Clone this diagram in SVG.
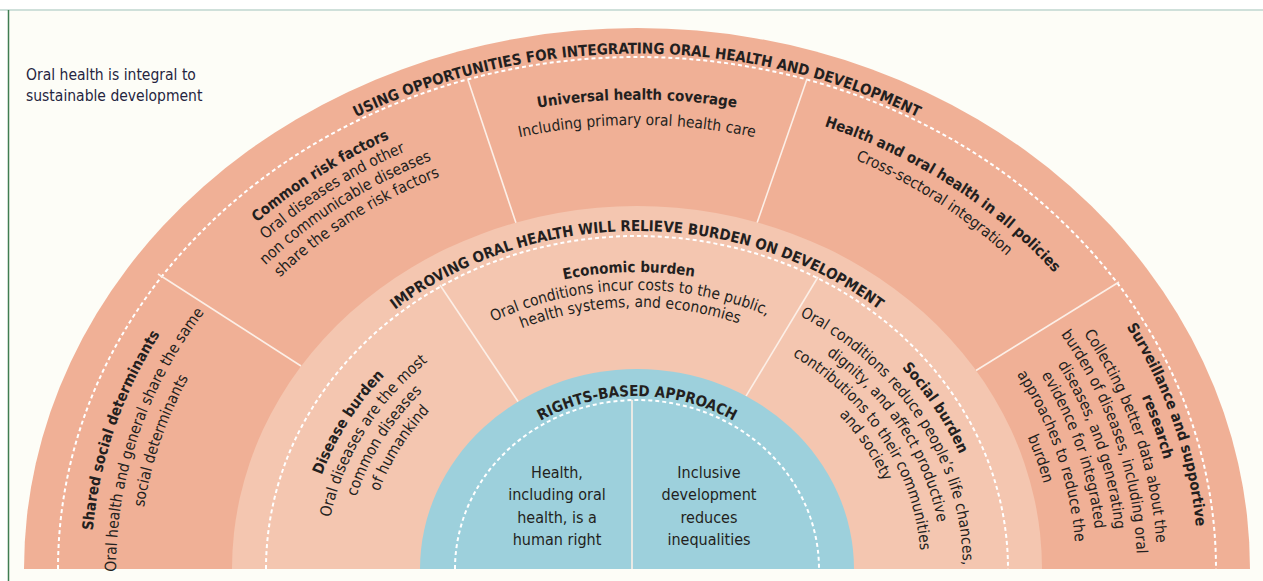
<svg xmlns="http://www.w3.org/2000/svg" width="1263" height="581" viewBox="0 0 1263 581">
<style>
.t{font-family:'DejaVu Sans Condensed','DejaVu Sans',sans-serif;font-stretch:condensed;fill:#231f20}
.b{font-weight:bold;font-size:15px}
.r{font-size:15.5px}
.c{font-size:16px}
.dv{stroke:#fcefe7;stroke-width:1.6;fill:none}
.dash{stroke:#ffffff;stroke-width:2;stroke-dasharray:4 3;fill:none}
</style>
<defs>
<path id="pOuterT" d="M54,569 A583,515.4 0 0 1 1220,569"/>
<path id="pMidT" d="M260,569 A377,338.2 0 0 1 1014,569"/>
<path id="pBlueT" d="M450,569 A187,173 0 0 1 824,569"/>
<path id="pA1" d="M137.8,764.5 A546,482.7 0 0 1 332.5,168.4"/>
<path id="pA2" d="M160.7,755.6 A521,460.6 0 0 1 346.4,186.7"/>
<path id="pA3" d="M181.7,747.3 A498,440.2 0 0 1 359.3,203.6"/>
<path id="pB1" d="M105.4,458.8 A546,482.7 0 0 1 667.5,87.1"/>
<path id="pB2" d="M124.9,462.8 A526,465 0 0 1 666.4,104.7"/>
<path id="pB3" d="M144.4,466.8 A506,447.3 0 0 1 665.2,122.4"/>
<path id="pB4" d="M163.8,470.9 A486,429.6 0 0 1 664.1,140.1"/>
<path id="pC1" d="M105.7,569 A531.3,469.7 0 0 1 1168.3,569"/>
<path id="pC2" d="M134.7,569 A502.3,444 0 0 1 1139.3,569"/>
<path id="pD1" d="M609,96.8 A535,472.9 0 0 1 1158.3,462.6"/>
<path id="pD2" d="M610.2,117 A512,452.6 0 0 1 1135.9,467.2"/>
<path id="pE1" d="M948.2,156.4 A561,495.9 0 0 1 1150.7,768.3"/>
<path id="pE2" d="M937.1,171.1 A541,478.2 0 0 1 1132.4,761.2"/>
<path id="pE3" d="M925.5,186.5 A520,459.7 0 0 1 1113.2,753.8"/>
<path id="pE4" d="M914.4,201.3 A500,442 0 0 1 1094.9,746.6"/>
<path id="pE5" d="M903.3,216 A480,424.3 0 0 1 1076.5,739.5"/>
<path id="pE6" d="M892.2,230.7 A460,406.6 0 0 1 1058.2,732.4"/>
<path id="pE7" d="M880.6,246.1 A439,388.1 0 0 1 1039,725"/>
<path id="pE8" d="M868.9,261.6 A418,369.5 0 0 1 1019.8,717.5"/>
<path id="pF1" d="M311.8,628.9 A332,297.8 0 0 1 514.8,292.1"/>
<path id="pF2" d="M331.4,625.3 A312,279.9 0 0 1 522.2,308.8"/>
<path id="pF3" d="M351,621.7 A292,261.9 0 0 1 529.5,325.5"/>
<path id="pF4" d="M370.5,618.1 A272,244 0 0 1 536.9,342.1"/>
<path id="pG1" d="M346.1,427.3 A331,296.9 0 0 1 919.2,413.9"/>
<path id="pG2" d="M363.7,435.9 A311,279 0 0 1 902.2,423.2"/>
<path id="pG3" d="M380.4,444 A292,261.9 0 0 1 886,432.2"/>
<path id="pH1" d="M756.3,276.7 A347,311.3 0 0 1 978.6,623.6"/>
<path id="pH2" d="M749,294.4 A326,292.4 0 0 1 957.9,620.3"/>
<path id="pH3" d="M741.8,312.1 A305,273.6 0 0 1 937.3,617"/>
<path id="pH4" d="M734.6,329.8 A284,254.7 0 0 1 916.6,613.7"/>
<path id="pH5" d="M728.1,345.8 A265,237.7 0 0 1 897.9,610.7"/>
</defs>

<g id="background">
<rect x="0" y="0" width="1263" height="581" fill="#ffffff"/>
<rect x="8" y="10" width="1255" height="571" fill="#fdfdf7"/>
<line x1="0" y1="10" x2="1263" y2="10" stroke="#cfe0da" stroke-width="2"/>
<line x1="8.5" y1="10" x2="8.5" y2="581" stroke="#3f7d52" stroke-width="1.5"/>
</g>

<g id="caption">
<text class="t" font-size="15.5" x="26" y="80" style="fill:#25253f">Oral health is integral to</text>
<text class="t" font-size="15.5" x="26" y="101" style="fill:#25253f">sustainable development</text>
</g>

<g id="outer-ring">
<path d="M24,569 A613,541 0 0 1 1250,569 Z" fill="#f0b096"/>
<path class="dash" d="M58,569 A579,512 0 0 1 1216,569"/>
<text class="t b" text-anchor="middle"><textPath href="#pOuterT" startOffset="50%">USING OPPORTUNITIES FOR INTEGRATING ORAL HEALTH AND DEVELOPMENT</textPath></text>
</g>

<g id="connectors">
<g id="outer-dividers">
<line class="dv" x1="158" y1="274" x2="301" y2="366"/>
<line class="dv" x1="468" y1="80" x2="516" y2="223"/>
<line class="dv" x1="807" y1="79" x2="757" y2="223"/>
<line class="dv" x1="1119" y1="282" x2="976" y2="370.5"/>
</g>
</g>

<g id="shared-social-determinants">
<text class="t b" text-anchor="middle"><textPath href="#pA1" startOffset="50%">Shared social determinants</textPath></text>
<text class="t r" text-anchor="middle"><textPath href="#pA2" startOffset="50%">Oral health and general share the same</textPath></text>
<text class="t r" text-anchor="middle"><textPath href="#pA3" startOffset="50%">social determinants</textPath></text>
</g>

<g id="common-risk-factors">
<text class="t b" text-anchor="middle"><textPath href="#pB1" startOffset="50%">Common risk factors</textPath></text>
<text class="t r" text-anchor="middle"><textPath href="#pB2" startOffset="50%">Oral diseases and other</textPath></text>
<text class="t r" text-anchor="middle"><textPath href="#pB3" startOffset="50%">non communicable diseases</textPath></text>
<text class="t r" text-anchor="middle"><textPath href="#pB4" startOffset="50%">share the same risk factors</textPath></text>
</g>

<g id="universal-health-coverage">
<text class="t b" text-anchor="middle"><textPath href="#pC1" startOffset="50%">Universal health coverage</textPath></text>
<text class="t r" text-anchor="middle"><textPath href="#pC2" startOffset="50%">Including primary oral health care</textPath></text>
</g>

<g id="health-in-all-policies">
<text class="t b" text-anchor="middle"><textPath href="#pD1" startOffset="50%">Health and oral health in all policies</textPath></text>
<text class="t r" text-anchor="middle"><textPath href="#pD2" startOffset="50%">Cross-sectoral integration</textPath></text>
</g>

<g id="surveillance-research">
<text class="t b" text-anchor="middle"><textPath href="#pE1" startOffset="50%">Surveillance and supportive</textPath></text>
<text class="t b" text-anchor="middle"><textPath href="#pE2" startOffset="50%">research</textPath></text>
<text class="t r" text-anchor="middle"><textPath href="#pE3" startOffset="50%">Collecting better data about the</textPath></text>
<text class="t r" text-anchor="middle"><textPath href="#pE4" startOffset="50%">burden of diseases, including oral</textPath></text>
<text class="t r" text-anchor="middle"><textPath href="#pE5" startOffset="50%">diseases, and generating</textPath></text>
<text class="t r" text-anchor="middle"><textPath href="#pE6" startOffset="50%">evidence for integrated</textPath></text>
<text class="t r" text-anchor="middle"><textPath href="#pE7" startOffset="50%">approaches to reduce the</textPath></text>
<text class="t r" text-anchor="middle"><textPath href="#pE8" startOffset="50%">burden</textPath></text>
</g>

<g id="middle-ring">
<path d="M232,569 A405,363 0 0 1 1042,569 Z" fill="#f4c6b0"/>
<path class="dash" d="M266,569 A371,333 0 0 1 1008,569"/>
<text class="t b" text-anchor="middle"><textPath href="#pMidT" startOffset="50%">IMPROVING ORAL HEALTH WILL RELIEVE BURDEN ON DEVELOPMENT</textPath></text>
</g>

<g id="middle-connectors">
<line class="dv" x1="440" y1="285" x2="518.2" y2="401.7"/>
<line class="dv" x1="818" y1="277" x2="746" y2="396.2"/>
</g>

<g id="disease-burden">
<text class="t b" text-anchor="middle"><textPath href="#pF1" startOffset="50%">Disease burden</textPath></text>
<text class="t r" text-anchor="middle"><textPath href="#pF2" startOffset="50%">Oral diseases are the most</textPath></text>
<text class="t r" text-anchor="middle"><textPath href="#pF3" startOffset="50%">common diseases</textPath></text>
<text class="t r" text-anchor="middle"><textPath href="#pF4" startOffset="50%">of humankind</textPath></text>
</g>

<g id="economic-burden">
<text class="t b" text-anchor="middle"><textPath href="#pG1" startOffset="50%">Economic burden</textPath></text>
<text class="t r" text-anchor="middle"><textPath href="#pG2" startOffset="50%">Oral conditions incur costs to the public,</textPath></text>
<text class="t r" text-anchor="middle"><textPath href="#pG3" startOffset="50%">health systems, and economies</textPath></text>
</g>

<g id="social-burden">
<text class="t b" text-anchor="middle"><textPath href="#pH1" startOffset="50%">Social burden</textPath></text>
<text class="t r" text-anchor="middle"><textPath href="#pH2" startOffset="50%">Oral conditions reduce people’s life chances,</textPath></text>
<text class="t r" text-anchor="middle"><textPath href="#pH3" startOffset="50%">dignity, and affect productive</textPath></text>
<text class="t r" text-anchor="middle"><textPath href="#pH4" startOffset="50%">contributions to their communities</textPath></text>
<text class="t r" text-anchor="middle"><textPath href="#pH5" startOffset="50%">and society</textPath></text>
</g>

<g id="rights-based-approach">
<path d="M420,569 A217,200 0 0 1 854,569 Z" fill="#9dd0dc"/>
<path class="dash" d="M455,569 A182,169 0 0 1 819,569"/>
<line class="dv" x1="632" y1="400" x2="632" y2="569"/>
<text class="t b" text-anchor="middle"><textPath href="#pBlueT" startOffset="50%">RIGHTS-BASED APPROACH</textPath></text>
</g>

<g id="human-right">
<text class="t c" text-anchor="middle" x="557" y="478">Health,</text>
<text class="t c" text-anchor="middle" x="557" y="500">including oral</text>
<text class="t c" text-anchor="middle" x="557" y="523">health, is a</text>
<text class="t c" text-anchor="middle" x="557" y="545">human right</text>
</g>

<g id="inclusive-development">
<text class="t c" text-anchor="middle" x="709" y="478">Inclusive</text>
<text class="t c" text-anchor="middle" x="709" y="500">development</text>
<text class="t c" text-anchor="middle" x="709" y="523">reduces</text>
<text class="t c" text-anchor="middle" x="709" y="545">inequalities</text>
</g>
</svg>
